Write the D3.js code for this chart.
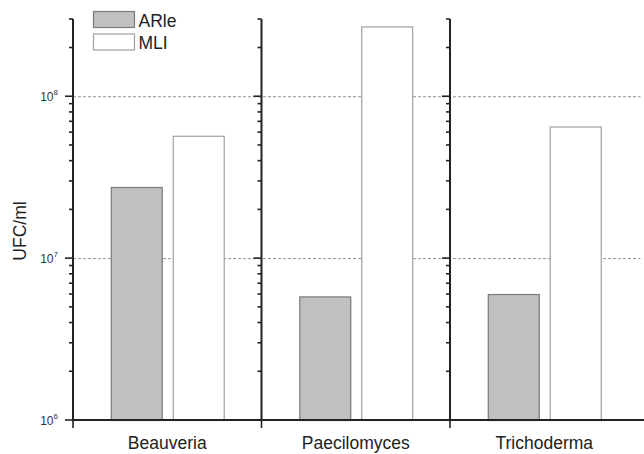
<!DOCTYPE html>
<html>
<head>
<meta charset="utf-8">
<script src="https://cdn.jsdelivr.net/npm/d3@7"></script>
<style>
  body { margin: 0; background: #fff; }
  svg { font-family: Arial, "Liberation Sans", sans-serif; }
</style>
</head>
<body>
<div id="chart"></div>
<script>
// podaci
const kategorije = ["Beauveria", "Paecilomyces", "Trichoderma"];
const serije = ["ARle", "MLI"];
const ARle = [2.75e7, 5.8e6, 6.0e6];
const MLI = [5.7e7, 2.7e8, 6.5e7];
const glavneOznake = [1e6, 1e7, 1e8];
const yDomena = [1e6, 3e8];

const sirina = 644;
const visina = 454;
const dim = { left: 73, right: 638.5, top: 19, bottom: 420 };

const svg = d3.select("#chart").append("svg")
    .attr("width", sirina)
    .attr("height", visina);

const x = d3.scaleBand()
    .domain(kategorije)
    .range([dim.left, dim.right]);

const xSerija = d3.scaleBand()
    .domain(serije)
    .range([0, x.bandwidth()])
    .paddingInner(0.177)
    .paddingOuter(0.61);

const y = d3.scaleLog()
    .domain(yDomena)
    .range([dim.bottom, dim.top]);

const boje = { ARle: "#c0c0c0", MLI: "#ffffff" };
const rubovi = { ARle: "#7a7a7a", MLI: "#a0a0a0" };

// isprekidane linije mreze
svg.append("g")
    .selectAll("line")
    .data(glavneOznake.slice(1))
    .join("line")
    .attr("x1", dim.left)
    .attr("x2", dim.right + 2)
    .attr("y1", d => y(d) + 0.5)
    .attr("y2", d => y(d) + 0.5)
    .attr("stroke", "#777")
    .attr("stroke-width", 0.8)
    .attr("stroke-dasharray", "3,2");

// stupci
const redovi = kategorije.map((k, i) => ({ k, vrijednosti: [
    { s: "ARle", v: ARle[i] },
    { s: "MLI", v: MLI[i] }
] }));

svg.append("g")
    .selectAll("g")
    .data(redovi)
    .join("g")
    .attr("transform", d => `translate(${x(d.k)},0)`)
    .selectAll("rect")
    .data(d => d.vrijednosti)
    .join("rect")
    .attr("x", d => xSerija(d.s) + 0.5)
    .attr("y", d => y(d.v) + 0.5)
    .attr("width", xSerija.bandwidth())
    .attr("height", d => dim.bottom - y(d.v))
    .attr("fill", d => boje[d.s])
    .attr("stroke", d => rubovi[d.s])
    .attr("stroke-width", 1.2);

// y osi za svaku kategoriju
const sveOznake = y.ticks().filter(t => t >= yDomena[0] && t <= yDomena[1]);
kategorije.forEach((k, i) => {
    const os = svg.append("g")
        .attr("transform", `translate(${x(k)},0)`);
    os.append("line")
        .attr("y1", dim.top)
        .attr("y2", dim.bottom)
        .attr("stroke", "#222")
        .attr("stroke-width", 2);
    os.selectAll(".ozn")
        .data(sveOznake)
        .join("line")
        .attr("x1", d => glavneOznake.includes(d) ? -8 : -4)
        .attr("x2", 0)
        .attr("y1", d => y(d))
        .attr("y2", d => y(d))
        .attr("stroke", "#222")
        .attr("stroke-width", 1.6);
    if (i === 0) {
        const t = os.selectAll(".lab")
            .data(glavneOznake)
            .join("text")
            .attr("x", -15)
            .attr("y", d => y(d) + 5)
            .attr("text-anchor", "end")
            .attr("font-size", 12)
            .attr("fill", "#333");
        t.append("tspan").text("10");
        t.append("tspan")
            .attr("font-size", 8)
            .attr("dy", -6)
            .text(d => Math.round(Math.log10(d)));
    }
});

// x os
svg.append("line")
    .attr("x1", dim.left)
    .attr("x2", sirina)
    .attr("y1", dim.bottom)
    .attr("y2", dim.bottom)
    .attr("stroke", "#222")
    .attr("stroke-width", 2);

svg.append("g")
    .selectAll("line")
    .data(kategorije)
    .join("line")
    .attr("x1", d => x(d))
    .attr("x2", d => x(d))
    .attr("y1", dim.bottom)
    .attr("y2", dim.bottom + 8)
    .attr("stroke", "#222")
    .attr("stroke-width", 1.6);

svg.append("g")
    .selectAll("text")
    .data(kategorije)
    .join("text")
    .attr("x", d => x(d) + x.bandwidth() / 2)
    .attr("y", 449)
    .attr("text-anchor", "middle")
    .attr("font-size", 17.5)
    .attr("fill", "#222")
    .text(d => d);

// naslov y osi
svg.append("text")
    .attr("transform", "translate(26,231) rotate(-90)")
    .attr("text-anchor", "middle")
    .attr("font-size", 17.5)
    .attr("fill", "#222")
    .text("UFC/ml");

// legenda
const legenda = svg.append("g")
    .attr("transform", "translate(93.5,11.5)");
serije.forEach((s, i) => {
    legenda.append("rect")
        .attr("x", 0)
        .attr("y", i * 22.5)
        .attr("width", 41)
        .attr("height", 16)
        .attr("fill", boje[s])
        .attr("stroke", rubovi[s])
        .attr("stroke-width", 1.2);
    legenda.append("text")
        .attr("x", 45)
        .attr("y", i * 22.5 + 15)
        .attr("font-size", 17.5)
        .attr("fill", "#222")
        .text(s);
});
</script>
</body>
</html>
